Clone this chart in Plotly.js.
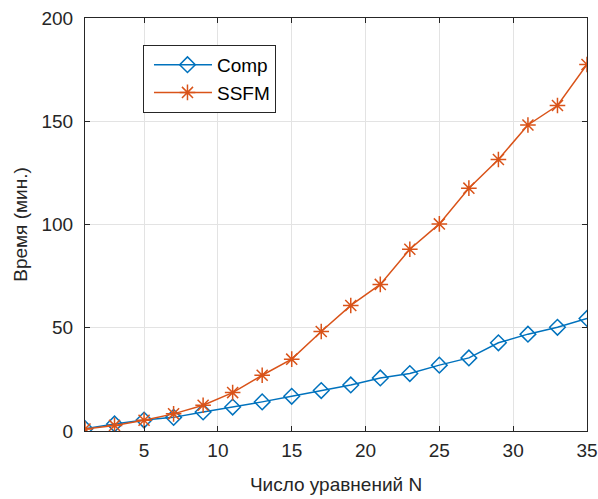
<!DOCTYPE html>
<html>
<head>
<meta charset="utf-8">
<script src="https://cdn.plot.ly/plotly-3.0.1.min.js"></script>
<style>html,body{margin:0;padding:0;background:#fff;}#chart{width:598px;height:499px;}</style>
</head>
<body>
<div id="chart"></div>
<script>
const N = [1,3,5,7,9,11,13,15,17,19,21,23,25,27,29,31,33,35];
const compTime = [1.1,3.4,5.3,6.6,9.2,11.6,14.1,16.8,19.6,22.3,25.7,27.8,31.9,35.4,42.7,46.9,50.2,54.5];
const ssfmTime = [1.0,2.7,5.2,8.3,12.5,18.6,27.0,34.8,48.2,60.8,71.0,88.0,100.3,117.6,131.5,148.2,157.6,177.5];
const xTicks = [5,10,15,20,25,30,35];
const yTicks = [0,50,100,150,200];
const seriesNames = ['Comp','SSFM'];

const font = 'Liberation Sans, Arial, Helvetica, sans-serif';
const traces = [
  {x:N, y:compTime, name:seriesNames[0], mode:'lines+markers', type:'scatter',
   line:{color:'#0072BD', width:1.5},
   marker:{symbol:'diamond-open', size:12, color:'#0072BD', line:{color:'#0072BD', width:1.5}}},
  {x:N, y:ssfmTime, name:seriesNames[1], mode:'lines+markers', type:'scatter',
   line:{color:'#D95319', width:1.5},
   marker:{symbol:'asterisk-open', size:13, color:'#D95319', line:{color:'#D95319', width:1.5}}}
];
const axisCommon = {
  showline:true, linecolor:'#262626', linewidth:1, mirror:'allticks',
  ticks:'inside', ticklen:5, tickcolor:'#262626', tickwidth:1,
  showgrid:true, gridcolor:'#e3e3e3', gridwidth:1, zeroline:false,
  tickfont:{family:font, size:19, color:'#262626'}
};
const layout = {
  width:598, height:499,
  margin:{l:85, r:11, t:18, b:68},
  paper_bgcolor:'#fff', plot_bgcolor:'#fff',
  showlegend:true,
  legend:{x:0.1155, y:0.935, xanchor:'left', yanchor:'top',
    bgcolor:'#fff', bordercolor:'#262626', borderwidth:1, itemwidth:63,
    font:{family:font, size:19, color:'#000'}, tracegroupgap:0},
  xaxis:Object.assign({}, axisCommon, {range:[1,35], tickvals:xTicks, ticktext:xTicks.map(String),
    ticklabelstandoff:2,
    title:{text:'Число уравнений N', font:{family:font, size:19, color:'#262626'}, standoff:17}}),
  yaxis:Object.assign({}, axisCommon, {range:[0,200], tickvals:yTicks, ticktext:yTicks.map(String),
    ticklabelstandoff:7,
    title:{text:'Время (мин.)', font:{family:font, size:19, color:'#262626'}, standoff:8}})
};
Plotly.newPlot('chart', traces, layout, {displayModeBar:false, staticPlot:true}).then(function(){
  // stretch legend sample lines like the reference
  document.querySelectorAll('.legend .legendlines path').forEach(function(p){
    p.setAttribute('d','M10,0h58');
  });
  document.querySelectorAll('.legend .legendpoints path').forEach(function(p){
    const t = p.getAttribute('transform') || '';
    p.setAttribute('transform', t.replace(/translate\(([-\d.]+)/, function(m, v){ return 'translate(' + (parseFloat(v) + 7); }));
  });
});
</script>
</body>
</html>
